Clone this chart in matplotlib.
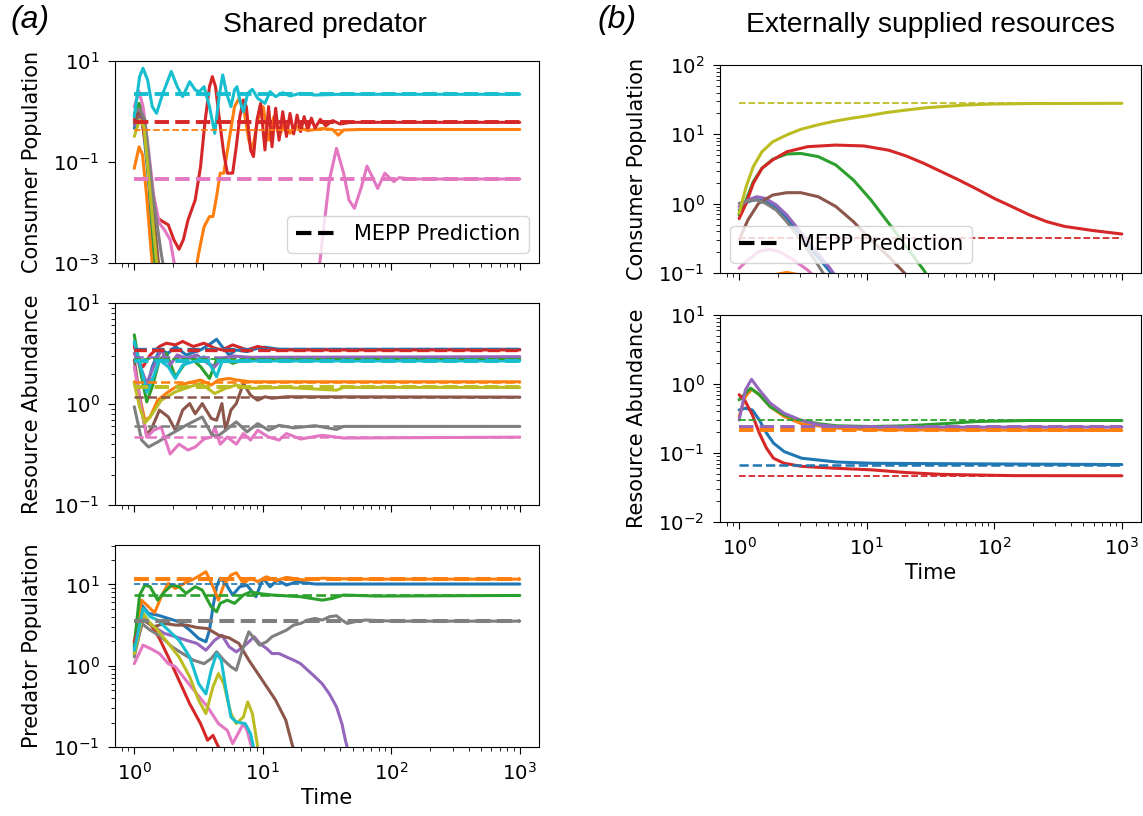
import numpy as np
import matplotlib.pyplot as plt
from matplotlib.lines import Line2D
from matplotlib.ticker import FixedLocator, NullLocator

# ── (a) shared predator : consumer population ─────────────────────────────────
sp_cons_C0 = ([1, 1.09, 1.17, 1.29, 1.44], [0.47, 0.73, 0.54, 0.044, 0.00063])
sp_cons_C1 = ([1, 1.09, 1.16, 1.25, 1.33, 1.40, 2.98, 3.17, 3.49, 3.85, 4.10, 4.37, 4.66, 4.97,
               5.47, 6.03, 6.55, 7.07, 7.79, 8.30, 9.14, 10.07, 11.1, 12.2, 13.4, 14.8, 16.3,
               18.5, 22.4, 29, 35, 38.7, 42.6, 55, 1000],
              [0.075, 0.20, 0.138, 0.0206, 0.0029, 0.00063, 0.00063, 0.00155, 0.0052, 0.0083,
               0.0083, 0.0206, 0.060, 0.060, 0.27, 1.25, 1.82, 1.25, 0.27, 0.173, 0.68, 1.25,
               0.27, 0.79, 0.32, 0.58, 0.37, 0.50, 0.42, 0.46, 0.44, 0.34, 0.43, 0.44, 0.44])
sp_cons_C2 = ([1, 1.09, 1.17, 1.29, 1.47], [0.79, 1.45, 0.92, 0.060, 0.00063])
sp_cons_C3 = ([1, 1.07, 1.14, 1.25, 1.38, 1.52, 1.67, 1.84, 2.03, 2.23, 2.41, 2.62, 2.98, 3.28,
               3.54, 3.85, 4.05, 4.29, 4.57, 4.97, 5.30, 5.83, 6.22, 6.63, 7.07, 7.45, 8.04,
               8.47, 9.02, 9.62, 10.4, 11.1, 11.8, 12.6, 13.4, 14.3, 15.3, 16.3, 17.4, 18.5,
               19.7, 21, 22.4, 23.9, 25.5, 28.1, 30.9, 35, 40, 48, 1000],
              [0.68, 0.99, 0.68, 0.173, 0.028, 0.0077, 0.0066, 0.0057, 0.0029, 0.00187, 0.0029,
               0.0071, 0.0177, 0.081, 0.58, 3.1, 4.9, 3.1, 0.79, 0.149, 0.060, 0.060, 0.20,
               0.79, 1.69, 1.25, 0.173, 0.128, 0.68, 1.45, 0.173, 1.25, 0.20, 1.16, 0.27, 0.99,
               0.32, 0.92, 0.36, 0.85, 0.40, 0.79, 0.43, 0.74, 0.47, 0.70, 0.52, 0.66, 0.565,
               0.61, 0.61])
sp_cons_C4 = ([1, 1.10, 1.19, 1.32, 1.52], [0.54, 0.92, 0.58, 0.038, 0.00063])
sp_cons_C5 = ([1, 1.10, 1.19, 1.33, 1.57], [0.60, 0.99, 0.68, 0.044, 0.00063])
sp_cons_C6 = ([1, 1.09, 1.17, 1.29, 1.42, 1.57, 1.72, 1.90, 2.09, 27.2, 29.9, 33.0, 37.5, 42.6,
               46.9, 51.7, 58.7, 64.7, 71.2, 78.4, 89.1, 98, 105, 115, 144, 1000],
              [1.25, 2.47, 1.25, 0.173, 0.0206, 0.0061, 0.0045, 0.0029, 0.00073, 0.00063,
               0.0052, 0.044, 0.187, 0.060, 0.0177, 0.0121, 0.0325, 0.083, 0.051, 0.030, 0.060,
               0.0475, 0.041, 0.049, 0.046, 0.046])
sp_cons_C7 = ([1, 1.10, 1.21, 1.38, 1.62, 1.72], [0.92, 1.15, 0.68, 0.028, 0.00155, 0.00063])
sp_cons_C8 = ([1, 1.10, 1.19, 1.33, 1.52], [0.32, 0.68, 0.50, 0.024, 0.00063])
sp_cons_C9 = ([1, 1.10, 1.17, 1.27, 1.38, 1.49, 1.67, 1.94, 2.16, 2.38, 2.70, 2.98, 3.21, 3.49,
               3.85, 4.23, 4.57, 4.88, 5.23, 5.65, 6.03, 6.30, 6.72, 7.07, 7.64, 8.30, 9.14,
               10.4, 11.4, 12.6, 14.3, 16.3, 19.7, 25.5, 40, 1000],
              [0.79, 4.9, 7.2, 4.2, 1.25, 0.92, 2.29, 6.2, 3.1, 1.97, 3.9, 2.67, 2.47, 3.1,
               1.25, 0.37, 1.97, 5.3, 2.29, 1.25, 2.67, 3.1, 1.45, 0.99, 2.29, 2.75, 1.82, 1.45,
               2.47, 1.97, 2.36, 2.03, 2.29, 2.12, 2.19, 2.19])
sp_cons_pred = {"C9": 2.19, "C3": 0.61, "C1": 0.44, "C6": 0.046}
sp_cons_pred_lw = {"C9": 2.8, "C3": 2.8, "C1": 1.3, "C6": 2.8}

# ── (a) shared predator : resource abundance ──────────────────────────────────
sp_res_C0 = ([1, 1.17, 1.25, 1.38, 1.57, 1.84, 2.09, 2.53, 3.28, 3.97, 4.37, 4.81, 5.47, 6.22,
              7.54, 9.14, 10.4, 13.4, 1000],
             [4.0, 1.86, 1.40, 2.34, 3.43, 3.18, 3.71, 3.06, 3.43, 4.0, 4.38, 3.71, 3.06, 3.43,
              3.30, 3.57, 3.65, 3.48, 3.48])
sp_res_C1 = ([1, 1.10, 1.21, 1.33, 1.52, 1.84, 2.23, 2.88, 3.28, 3.97, 4.52, 5.47, 6.22, 8.04, 1000],
             [1.66, 1.18, 0.69, 0.745, 1.09, 1.32, 1.54, 1.66, 1.73, 1.54, 1.73, 1.79, 1.73, 1.66, 1.66])
sp_res_C2 = ([1, 1.10, 1.25, 1.38, 1.57, 1.78, 2.09, 2.38, 2.70, 3.28, 3.85, 4.37, 4.97, 5.83,
              7.07, 9.14, 1000],
             [4.84, 2.34, 1.05, 1.48, 2.73, 3.18, 1.86, 2.34, 2.94, 2.34, 1.79, 2.73, 2.84, 2.53,
              2.73, 2.77, 2.79])
sp_res_C3 = ([1, 1.10, 1.17, 1.33, 1.57, 1.78, 2.09, 2.38, 2.88, 3.49, 4.23, 4.81, 5.83, 7.54,
              9.14, 11.8, 15.3, 1000],
             [3.71, 2.53, 2.34, 3.06, 3.71, 4.0, 3.85, 4.16, 3.71, 4.0, 3.57, 3.43, 3.85, 3.43,
              3.71, 3.48, 3.43, 3.43])
sp_res_C4 = ([1, 1.14, 1.25, 1.38, 1.62, 1.90, 2.16, 2.53, 3.07, 3.72, 4.23, 4.81, 5.83, 8.04, 1000],
             [3.18, 2.17, 1.60, 2.17, 3.43, 2.43, 3.06, 2.84, 3.06, 2.53, 2.34, 2.84, 2.99, 2.90, 2.94])
sp_res_C5 = ([1, 1.14, 1.25, 1.38, 1.57, 1.84, 2.09, 2.38, 2.70, 2.98, 3.38, 3.97, 4.37, 4.81,
              5.13, 5.65, 6.22, 7.07, 8.04, 9.14, 10.4, 11.8, 15.3, 1000],
             [2.73, 0.87, 0.49, 0.59, 0.87, 0.745, 0.55, 0.87, 1.01, 0.80, 1.01, 0.72, 0.69, 1.01,
              0.55, 0.87, 1.01, 1.60, 1.22, 1.09, 1.18, 1.14, 1.18, 1.17])
sp_res_C6 = ([1, 1.14, 1.25, 1.42, 1.62, 1.90, 2.23, 2.62, 2.98, 3.49, 3.97, 4.23, 4.66, 5.30,
              6.22, 7.07, 8.04, 9.14, 11.1, 13.4, 15.3, 19.7, 29, 42.6, 1000],
             [2.34, 0.87, 0.47, 0.55, 0.59, 0.32, 0.40, 0.35, 0.375, 0.45, 0.47, 0.59, 0.40, 0.47,
              0.40, 0.51, 0.44, 0.55, 0.47, 0.44, 0.51, 0.45, 0.49, 0.46, 0.47])
sp_res_C7 = ([1, 1.14, 1.29, 1.52, 1.96, 2.53, 3.38, 3.97, 4.37, 5.13, 6.22, 7.54, 9.14, 11.1,
              13.4, 17.4, 25.5, 37.5, 42.6, 1000],
             [0.94, 0.44, 0.375, 0.42, 0.51, 0.615, 0.745, 0.51, 0.47, 0.55, 0.665, 0.53, 0.64,
              0.55, 0.615, 0.58, 0.61, 0.56, 0.60, 0.60])
sp_res_C8 = ([1, 1.10, 1.21, 1.33, 1.62, 2.09, 2.70, 3.28, 4.23, 5.13, 6.22, 8.04, 15.3, 37.5,
              42.6, 1000],
             [1.60, 0.94, 0.65, 0.745, 1.09, 1.32, 1.48, 1.60, 1.27, 1.43, 1.54, 1.43, 1.46, 1.37,
              1.46, 1.46])
sp_res_C9 = ([1, 1.14, 1.25, 1.38, 1.57, 1.84, 2.09, 2.38, 2.88, 3.49, 3.97, 4.37, 4.81, 5.65,
              8.04, 1000],
             [4.16, 2.17, 1.30, 1.73, 2.73, 2.34, 1.79, 2.43, 2.63, 2.94, 2.34, 1.86, 2.63, 2.63,
              2.67, 2.67])
sp_res_pred = {"C0": 3.50, "C3": 3.40, "C4": 2.94, "C2": 2.79, "C9": 2.67,
               "C1": 1.66, "C8": 1.46, "C5": 1.18, "C7": 0.60, "C6": 0.47}
sp_res_pred_lw = {"C0": 2.4, "C3": 2.4, "C4": 1.8, "C2": 1.3, "C9": 2.8,
                  "C1": 1.8, "C8": 2.8, "C5": 1.8, "C7": 1.8, "C6": 1.8}

# ── (a) shared predator : predator population ─────────────────────────────────
sp_pred_C0 = ([1, 1.14, 1.29, 1.52, 1.84, 2.23, 2.70, 3.17, 3.61, 3.85, 4.10, 4.37, 4.66, 5.13,
               5.83, 6.63, 7.54, 8.85, 10.07, 11.4, 13.0, 15.3, 18.5, 25.5, 1000],
              [1.71, 5.6, 4.39, 4.19, 3.81, 3.47, 2.74, 2.16, 1.97, 2.74, 5.3, 9.36, 11.9, 10.3,
               7.4, 9.36, 9.8, 7.05, 11.9, 9.36, 11.3, 9.8, 10.8, 10.1, 10.1])
sp_pred_C1 = ([1, 1.14, 1.29, 1.44, 1.62, 1.84, 2.09, 2.45, 2.98, 3.61, 4.10, 4.52, 4.97, 5.65,
               6.22, 7.07, 8.04, 9.14, 10.7, 12.6, 15.3, 21, 29, 55, 1000],
              [1.88, 6.4, 5.3, 4.48, 7.05, 10.3, 8.9, 10.3, 11.9, 14.3, 9.36, 6.4, 9.8, 13.0,
               13.9, 10.3, 11.9, 10.8, 12.4, 11.1, 12.2, 11.3, 11.9, 11.6, 11.6])
sp_pred_C2 = ([1, 1.10, 1.21, 1.33, 1.52, 1.72, 1.96, 2.23, 2.53, 2.98, 3.38, 3.97, 4.37, 4.66,
               5.30, 6.03, 7.07, 8.04, 9.14, 11.8, 19.7, 29, 35, 42.6, 76, 1000],
              [1.8, 7.4, 9.8, 9.36, 6.4, 8.1, 9.8, 9.36, 7.75, 9.36, 8.5, 5.3, 4.6, 5.84, 6.4,
               5.84, 7.4, 8.1, 7.75, 7.4, 7.05, 6.4, 6.73, 7.4, 7.18, 7.31])
sp_pred_C3 = ([1, 1.17, 1.33, 1.57, 1.84, 2.23, 2.70, 3.28, 3.72, 4.10, 4.37, 4.66, 5.13],
              [1.97, 4.0, 3.31, 2.16, 1.28, 0.66, 0.34, 0.194, 0.121, 0.139, 0.112, 0.091, 0.0685])
sp_pred_C4 = ([1, 1.17, 1.42, 1.72, 2.09, 2.53, 3.07, 3.61, 4.23, 4.81, 5.47, 6.22, 7.07, 8.04,
               8.57, 9.44, 10.7, 11.8, 13.4, 15.3, 17.4, 19.7, 22.4, 25.5, 29, 33.0, 37.5,
               41.3, 44.0, 48],
              [1.48, 4.0, 3.01, 2.49, 2.27, 2.06, 1.88, 1.55, 2.06, 2.37, 1.71, 1.48, 1.71, 2.06,
               2.27, 1.88, 1.63, 1.41, 1.41, 1.28, 1.17, 1.06, 0.88, 0.73, 0.60, 0.45, 0.311,
               0.194, 0.121, 0.07])
sp_pred_C5 = ([1, 1.17, 1.42, 1.72, 2.09, 2.53, 3.07, 3.72, 4.54, 5.47, 6.51, 7.79, 9.94, 12.6,
               15.1, 17.0, 18.5],
              [1.41, 3.64, 3.01, 3.31, 3.16, 3.16, 2.95, 2.86, 2.37, 2.2, 1.88, 1.17, 0.66,
               0.376, 0.214, 0.105, 0.07])
sp_pred_C6 = ([1, 1.17, 1.33, 1.57, 1.84, 2.09, 2.53, 3.07, 3.72, 4.52, 5.30, 5.83, 6.42, 7.07,
               7.54, 8.04, 8.57],
              [1.06, 1.79, 1.63, 1.41, 1.06, 0.97, 0.66, 0.45, 0.311, 0.194, 0.16, 0.11, 0.146,
               0.194, 0.16, 0.11, 0.083])
sp_pred_C7 = ([1, 1.14, 1.33, 1.62, 1.96, 2.38, 2.88, 3.49, 3.97, 4.37, 4.97, 5.65, 6.22, 7.07,
               7.79, 8.57, 9.44, 10.7, 11.8, 13.4, 15.3, 17.4, 19.7, 22.4, 25.5, 29, 33.0,
               37.5, 41.3, 45.4, 51.7, 62.6, 105, 1000],
              [1.28, 3.31, 2.74, 2.27, 1.71, 1.41, 1.17, 1.06, 1.22, 1.48, 1.17, 0.97, 0.88,
               1.71, 2.61, 2.16, 1.79, 1.97, 2.27, 2.49, 2.74, 3.16, 3.31, 3.64, 3.81, 3.64,
               4.0, 4.11, 3.64, 3.31, 3.47, 3.64, 3.53, 3.53])
sp_pred_C8 = ([1, 1.17, 1.33, 1.52, 1.84, 2.23, 2.70, 3.17, 3.61, 4.10, 4.52, 4.97, 5.65, 6.22,
               7.07, 7.64, 8.30, 9.14, 9.75],
              [1.41, 4.39, 3.31, 2.74, 1.88, 1.28, 0.73, 0.376, 0.258, 0.55, 0.80, 0.60, 0.258,
               0.194, 0.234, 0.358, 0.258, 0.1, 0.06])
sp_pred_C9 = ([1, 1.17, 1.33, 1.52, 1.84, 2.23, 2.70, 3.17, 3.61, 3.97, 4.37, 4.75, 5.13, 5.65,
               6.22, 7.30, 8.04, 8.68, 9.75],
              [1.55, 5.06, 4.0, 3.64, 2.74, 2.06, 1.28, 0.60, 0.45, 0.88, 1.41, 1.17, 0.55,
               0.234, 0.203, 0.194, 0.146, 0.083, 0.05])
sp_pred_pred = {"C1": 11.6, "C0": 10.1, "C2": 7.46, "C7": 3.53}
sp_pred_pred_lw = {"C1": 2.9, "C0": 1.2, "C2": 1.9, "C7": 2.9}

# ── (b) externally supplied resources : consumer population ───────────────────
ex_cons_C0 = ([1, 1.17, 1.37, 1.61, 1.95, 2.36, 3.04, 3.92, 5.05, 5.73],
              [0.81, 1.07, 1.15, 1.07, 0.86, 0.61, 0.35, 0.19, 0.11, 0.079])
ex_cons_C1 = ([1, 1.61, 2.36, 3.45, 5.73], [0.051, 0.089, 0.102, 0.089, 0.051])
ex_cons_C2 = ([1, 1.135, 1.29, 1.51, 1.83, 2.36, 3.04, 4.17, 5.73, 7.87, 10.8, 14.9, 20.4, 28, 33.9],
              [0.69, 1.13, 2.07, 3.24, 4.36, 5.2, 5.3, 4.77, 3.61, 2.19, 1.13, 0.52, 0.24, 0.11, 0.064])
ex_cons_C3 = ([1, 1.135, 1.29, 1.51, 1.83, 2.36, 3.45, 5.73, 9.5, 14.9, 20.4, 28, 38.5, 52.9,
               72.6, 100, 137, 188, 258, 355, 590, 1000],
              [0.61, 1.01, 1.96, 3.24, 4.27, 5.6, 6.64, 7.0, 6.8, 5.9, 4.87, 3.82, 2.89, 2.19,
               1.63, 1.19, 0.91, 0.69, 0.55, 0.47, 0.41, 0.365])
ex_cons_C4 = ([1, 1.17, 1.37, 1.61, 1.95, 2.36, 3.04, 3.92, 5.05, 5.73],
              [0.91, 1.13, 1.26, 1.19, 0.96, 0.69, 0.39, 0.215, 0.123, 0.089])
ex_cons_C5 = ([1, 1.17, 1.42, 1.83, 2.36, 3.04, 4.17, 5.73, 7.87, 10.8, 14.9, 20.4],
              [0.30, 0.58, 1.01, 1.33, 1.44, 1.44, 1.26, 0.91, 0.55, 0.30, 0.172, 0.094])
ex_cons_C6 = ([1, 1.17, 1.42, 1.715, 2.07, 2.67, 3.45, 4.17],
              [0.117, 0.154, 0.203, 0.22, 0.203, 0.154, 0.11, 0.079])
ex_cons_C7 = ([1, 1.17, 1.37, 1.61, 1.95, 2.36, 3.04, 3.92, 4.74],
              [1.01, 1.10, 1.13, 1.01, 0.81, 0.55, 0.30, 0.154, 0.089])
ex_cons_C8 = ([1, 1.135, 1.29, 1.51, 1.83, 2.36, 3.04, 4.2, 5.73, 7.5, 10, 14, 20.4, 28, 38.5,
               60, 100, 200, 1000],
              [0.73, 1.76, 3.42, 5.6, 7.8, 9.8, 11.8, 13.8, 15.6, 17.0, 18.4, 20.5, 22.4, 24.0,
               25.1, 26.5, 27.4, 27.8, 28])
ex_cons_pred = {"C8": 28.6, "C3": 0.324}
ex_cons_pred_lw = {"C8": 1.3, "C3": 1.3}

# ── (b) externally supplied resources : resource abundance ────────────────────
ex_res_C0 = ([1, 1.12, 1.27, 1.44, 1.64, 1.86, 2.25, 3.09, 5.81, 10.9, 38.8, 1000],
             [0.42, 0.446, 0.42, 0.30, 0.194, 0.139, 0.105, 0.084, 0.074, 0.071, 0.070, 0.068])
ex_res_C1 = ([1, 1.12, 1.256, 1.44, 1.75, 2.25, 3.09, 5.81, 10.9, 1000],
             [0.338, 0.658, 0.84, 0.70, 0.47, 0.338, 0.265, 0.229, 0.217, 0.212])
ex_res_C2 = ([1, 1.23, 1.44, 1.75, 2.25, 3.09, 4.23, 5.81, 10.9, 20.6, 38.8, 73.1, 189, 1000],
             [0.59, 0.87, 0.70, 0.47, 0.357, 0.296, 0.265, 0.248, 0.242, 0.248, 0.265, 0.286,
              0.296, 0.296])
ex_res_C3 = ([1, 1.12, 1.27, 1.44, 1.64, 1.86, 2.25, 3.09, 5.81, 10.9, 20.6, 38.8, 138, 1000],
             [0.70, 0.557, 0.357, 0.194, 0.117, 0.084, 0.071, 0.064, 0.060, 0.057, 0.052, 0.049,
              0.047, 0.0468])
ex_res_C4 = ([1, 1.12, 1.25, 1.44, 1.75, 2.25, 3.09, 4.23, 5.81, 10.9, 1000],
             [0.30, 0.82, 1.17, 0.82, 0.53, 0.377, 0.296, 0.256, 0.242, 0.237, 0.237])
ex_res_pred = {"C2": 0.296, "C4": 0.237, "C1": 0.212, "C0": 0.068, "C3": 0.047}
ex_res_pred_lw = {"C2": 1.3, "C4": 2.8, "C1": 2.8, "C0": 1.8, "C3": 1.3}

W, H = 1143, 816
label_fs = 15
tick_fs = 14.2
title_font = "Liberation Sans"


def px_rect(x0, y0, x1, y1):
    # pixel box (top-left origin) -> figure fraction rect
    return [x0 / W, 1 - y1 / H, (x1 - x0) / W, (y1 - y0) / H]


def draw_panel(ax, series, pred, pred_lw, ylim, ylabel, show_x):
    for col, (t, v) in series:
        ax.plot(t, v, color=col, lw=2.2, solid_capstyle="round")
    t_end = [1, 1000]
    for col, level in pred.items():
        ax.plot(t_end, [level, level], color=col, ls="--", lw=pred_lw[col])
    ax.set_xscale("log")
    ax.set_yscale("log")
    ax.set_ylim(*ylim)
    ax.set_ylabel(ylabel, fontsize=label_fs, labelpad=8)
    ax.tick_params(which="major", labelsize=tick_fs, length=5, pad=6)
    ax.tick_params(which="minor", length=2.8)
    if show_x:
        ax.set_xlabel("Time", fontsize=label_fs, labelpad=3)
    else:
        ax.tick_params(labelbottom=False)


fig = plt.figure(figsize=(W / 100, H / 100), dpi=100)

ax_a1 = fig.add_axes(px_rect(115, 61, 539, 263))
ax_a2 = fig.add_axes(px_rect(115, 303, 539, 505))
ax_a3 = fig.add_axes(px_rect(115, 545, 539, 747))
ax_b1 = fig.add_axes(px_rect(720, 65, 1141, 273))
ax_b2 = fig.add_axes(px_rect(720, 315, 1141, 522))

# ── 1. Shared predator ────────────────────────────────────────────────────────
draw_panel(ax_a1,
           [("C0", sp_cons_C0), ("C1", sp_cons_C1), ("C2", sp_cons_C2), ("C3", sp_cons_C3),
            ("C4", sp_cons_C4), ("C5", sp_cons_C5), ("C6", sp_cons_C6), ("C7", sp_cons_C7),
            ("C8", sp_cons_C8), ("C9", sp_cons_C9)],
           sp_cons_pred, sp_cons_pred_lw, (1e-3, 1e1), "Consumer Population", False)
ax_a1.yaxis.set_major_locator(FixedLocator([1e-3, 1e-1, 1e1]))
ax_a1.yaxis.set_minor_locator(NullLocator())

draw_panel(ax_a2,
           [("C0", sp_res_C0), ("C1", sp_res_C1), ("C2", sp_res_C2), ("C3", sp_res_C3),
            ("C4", sp_res_C4), ("C5", sp_res_C5), ("C6", sp_res_C6), ("C7", sp_res_C7),
            ("C8", sp_res_C8), ("C9", sp_res_C9)],
           sp_res_pred, sp_res_pred_lw, (1e-1, 1e1), "Resource Abundance", False)
draw_panel(ax_a3,
           [("C0", sp_pred_C0), ("C1", sp_pred_C1), ("C2", sp_pred_C2), ("C3", sp_pred_C3),
            ("C4", sp_pred_C4), ("C5", sp_pred_C5), ("C6", sp_pred_C6), ("C7", sp_pred_C7),
            ("C8", sp_pred_C8), ("C9", sp_pred_C9)],
           sp_pred_pred, sp_pred_pred_lw, (1e-1, 30.5), "Predator Population", True)

# ── 2. Externally supplied resources ──────────────────────────────────────────
draw_panel(ax_b1,
           [("C0", ex_cons_C0), ("C1", ex_cons_C1), ("C2", ex_cons_C2), ("C3", ex_cons_C3),
            ("C4", ex_cons_C4), ("C5", ex_cons_C5), ("C6", ex_cons_C6), ("C7", ex_cons_C7),
            ("C8", ex_cons_C8)],
           ex_cons_pred, ex_cons_pred_lw, (1e-1, 1e2), "Consumer Population", False)
draw_panel(ax_b2,
           [("C0", ex_res_C0), ("C1", ex_res_C1), ("C2", ex_res_C2), ("C3", ex_res_C3),
            ("C4", ex_res_C4)],
           ex_res_pred, ex_res_pred_lw, (1e-2, 1e1), "Resource Abundance", True)

for ax in (ax_a1, ax_a2, ax_a3, ax_b1, ax_b2):
    ax.set_xlim(10 ** -0.15, 10 ** 3.15)

mepp = [Line2D([], [], color="k", ls="--", lw=3)]
ax_a1.legend(mepp, ["MEPP Prediction"], loc="lower right", fontsize=label_fs)
ax_b1.legend(mepp, ["MEPP Prediction"], loc="lower left", fontsize=label_fs)

# ── 3. Titles / panel letters ─────────────────────────────────────────────────
fig.text(325 / W, 1 - 32 / H, "Shared predator", ha="center", va="baseline",
         family=title_font, fontsize=20.3)
fig.text(930 / W, 1 - 32 / H, "Externally supplied resources", ha="center", va="baseline",
         family=title_font, fontsize=20.3)
fig.text(10 / W, 1 - 28 / H, "(a)", ha="left", va="baseline",
         family=title_font, style="italic", fontsize=23)
fig.text(598 / W, 1 - 28 / H, "(b)", ha="left", va="baseline",
         family=title_font, style="italic", fontsize=23)

fig.savefig("out.png", dpi=100)
